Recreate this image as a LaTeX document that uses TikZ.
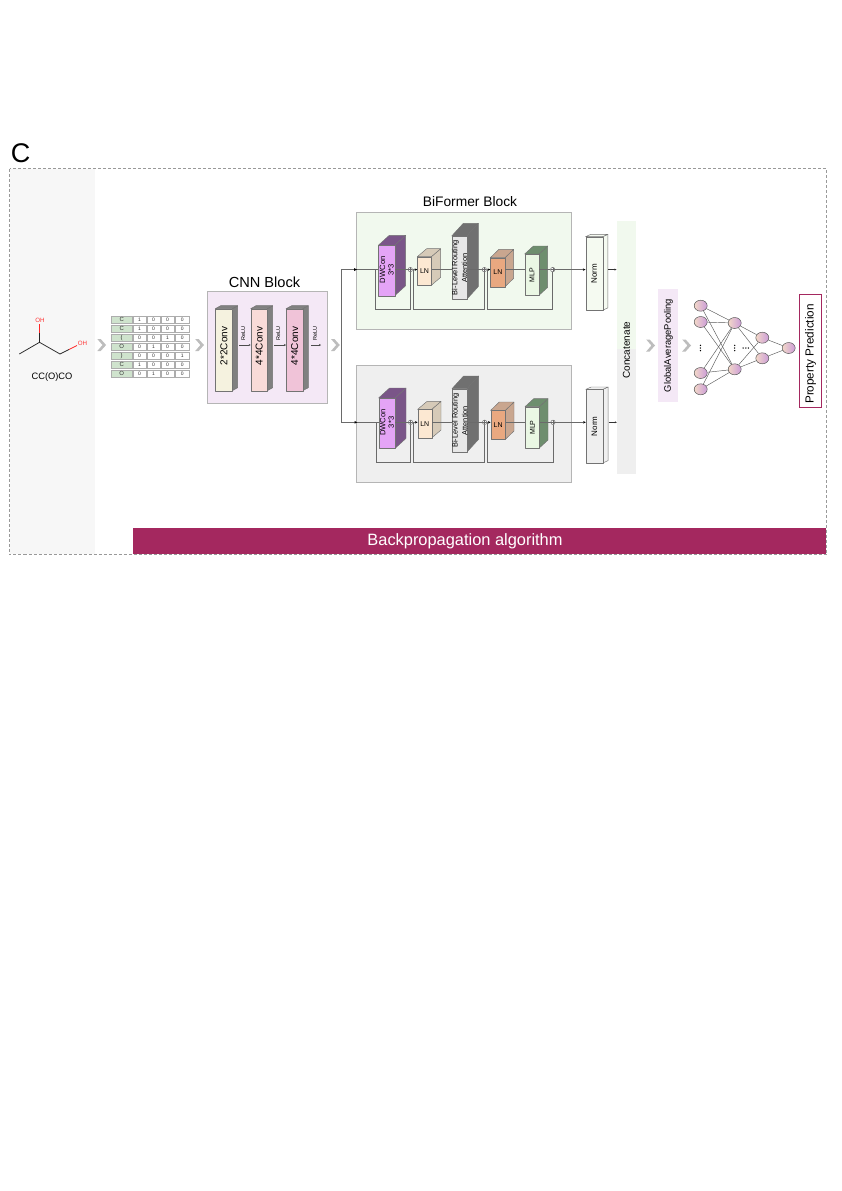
\documentclass[tikz,border=0pt]{standalone}
\usepackage{fontspec}
\usepackage{graphicx}
\setmainfont{Liberation Sans}
\usetikzlibrary{arrows.meta,shapes.geometric}
\definecolor{panelgray}{HTML}{F7F7F7}
\definecolor{lilacbg}{HTML}{F4E8F6}
\definecolor{greenbg}{HTML}{F1F9EE}
\definecolor{graybg}{HTML}{EFEFEF}
\definecolor{boxline}{HTML}{B5B5B5}
\definecolor{wine}{HTML}{A4285F}
\definecolor{chevgray}{HTML}{BDBDBD}
\definecolor{wire}{HTML}{6A6A6A}
\definecolor{cellgreen}{HTML}{CFE3CD}
\definecolor{nnleft}{HTML}{F3D8C8}
\definecolor{nnright}{HTML}{CB9CD8}
\definecolor{convA}{HTML}{F5F2DF}
\definecolor{convB}{HTML}{F9DBD8}
\definecolor{convC}{HTML}{F0C3D8}
\definecolor{dwfront}{HTML}{E4A4F6}
\definecolor{dwside}{HTML}{7A5588}
\definecolor{lnafront}{HTML}{FCE8D2}
\definecolor{lnaside}{HTML}{D6CAB8}
\definecolor{bifront}{HTML}{E7E7E7}
\definecolor{biside}{HTML}{707070}
\definecolor{lnbfront}{HTML}{E9A880}
\definecolor{lnbside}{HTML}{C9A68F}
\definecolor{mlpfront}{HTML}{EAF7E4}
\definecolor{mlpside}{HTML}{6E8E6E}
\definecolor{normgreen}{HTML}{F5FAF1}
\definecolor{convside}{HTML}{808080}
\newcommand{\fs}[1]{\fontsize{#1}{#1}\selectfont}
\tikzset{
  fs/.style={font=\fontsize{#1}{#1}\selectfont},
  blockbox/.style={draw=boxline,line width=0.7pt},
  cubeedge/.style={draw=black!55,line width=0.45pt,line join=round},
  wireline/.style={draw=wire,line width=0.65pt},
  tip/.style={wireline,-{Stealth[length=2.6pt,width=2.4pt,color=black]}},
  relu/.style={draw=black!70,line width=0.4pt,-{Stealth[length=2pt,width=2pt]}},
  plus/.style={circle,draw=wire,fill=white,line width=0.5pt,minimum size=4.4pt,inner sep=0pt,
    path picture={\draw[wire,line width=0.35pt] (path picture bounding box.west) -- (path picture bounding box.east) (path picture bounding box.north) -- (path picture bounding box.south);}},
  nn/.style={ellipse,draw=black!65,line width=0.5pt,left color=nnleft,right color=nnright,minimum width=13pt,minimum height=11pt,inner sep=0pt},
  nnedge/.style={draw=black!65,line width=0.45pt},
  cell/.style={draw=black!32,line width=0.35pt,fill=white,inner sep=0pt,fs=5,text=black!80},
  chev/.style={fill=chevgray,draw=none}
}
\newcommand{\ctext}{}
% name, x, y(top of front), w, h, dx, dy, front colour, side colour ; label in \ctext
\newcommand{\cuboid}[9]{%
  \filldraw[cubeedge,fill=#9] (#2+#4,#3) -- ++(#6,-#7) -- ++(0,#5) -- ++(-#6,#7) -- cycle;
  \filldraw[cubeedge,fill=#9] (#2,#3) -- ++(#6,-#7) -- ++(#4,0) -- ++(-#6,#7) -- cycle;
  \node[cubeedge,fill=#8,anchor=north west,minimum width=#4pt,minimum height=#5pt,inner sep=0pt,text=black] (#1) at (#2,#3) {\ctext};
}
\newcommand{\chevron}[2]{%
  \fill[chev] (#1,#2-6) -- ++(3.4,0) -- ++(5.4,6) -- ++(-5.4,6) -- ++(-3.4,0) -- ++(5.2,-6) -- cycle;
}
% prefix, dx, dy, bg colour, norm fill
\newcommand{\branch}[5]{%
  \begin{scope}[shift={(#2,#3)}]
    \node[blockbox,fill=#4,minimum width=215pt,minimum height=117pt,inner sep=0pt,anchor=north west] (#1box) at (356,212.3) {};
    \renewcommand{\ctext}{\fs{7.6}\rotatebox{90}{\hspace{2pt}\shortstack{DWCon\\3*3}}}
    \cuboid{#1dw}{378.3}{245.3}{16.4}{50.4}{11}{10}{dwfront}{dwside}
    \renewcommand{\ctext}{\fs{7}LN}
    \cuboid{#1lna}{417.3}{256.7}{14}{28.6}{9.4}{8}{lnafront}{lnaside}
    \renewcommand{\ctext}{\fs{7.4}\rotatebox{90}{\shortstack{Bi-Level Routing\\Attention}}}
    \cuboid{#1bi}{451.7}{236}{15}{63.3}{11.6}{12.7}{bifront}{biside}
    \renewcommand{\ctext}{\fs{7}LN}
    \cuboid{#1lnb}{490.3}{257.7}{14.7}{29}{8.7}{8.4}{lnbfront}{lnbside}
    \renewcommand{\ctext}{\fs{7}\rotatebox{90}{MLP}}
    \cuboid{#1mlp}{524.7}{254}{14.3}{41.3}{8.7}{8}{mlpfront}{mlpside}
    \renewcommand{\ctext}{\fs{8}\rotatebox{90}{Norm}}
    \cuboid{#1norm}{585.5}{236.7}{17}{73.6}{5.3}{2.4}{#5}{#5}
    \node[plus] (#1pa) at (410.3,269.6) {};
    \node[plus] (#1pb) at (484.3,269.6) {};
    \node[plus] (#1pc) at (552.7,269.6) {};
    \coordinate (#1in) at (356,269.6);
    \coordinate (#1ra) at (375.7,269.6);
    \coordinate (#1rb) at (413.3,269.6);
    \coordinate (#1rc) at (487.3,269.6);
    \coordinate (#1out) at (616.5,269.6);
    \draw[wireline] (#1in) -- (#1in -| #1dw.west);
    \draw[wireline] (#1pa -| #1dw.east) -- (#1pa);
    \draw[tip] (#1pa) -- (#1pa -| #1lna.west);
    \draw[wireline] (#1pa -| #1lna.east) -- (#1pa -| #1bi.west);
    \draw[wireline] (#1pb -| #1bi.east) -- (#1pb);
    \draw[tip] (#1pb) -- (#1pb -| #1lnb.west);
    \draw[wireline] (#1pb -| #1lnb.east) -- (#1pb -| #1mlp.west);
    \draw[wireline] (#1pc -| #1mlp.east) -- (#1pc);
    \draw[tip] (#1pc) -- (#1pc -| #1norm.west);
    \draw[relu,draw=black!80] (#1out -| #1norm.east) ++(5.3,0) -- (#1out);
    \draw[wireline] (#1ra) -- ++(0,39.8) -| (#1pa);
    \draw[wireline] (#1rb) -- ++(0,39.8) -| (#1pb);
    \draw[wireline] (#1rc) -- ++(0,39.8) -| (#1pc);
  \end{scope}
}
\begin{document}
\begin{tikzpicture}[x=1pt,y=-1pt]
\useasboundingbox (0,0) rectangle (842,1191);
% outer
\fill[panelgray] (10,169) rectangle (95,554);
\draw[draw=black!40,line width=0.5pt,dash pattern=on 3pt off 2pt] (9.5,168.5) rectangle (826.5,554.5);
\node[fs=27,anchor=center] (lab) at (20.5,153) {C};
% molecule
\coordinate (m1) at (19.3,354);
\coordinate (m2) at (39.5,342.3);
\coordinate (m3) at (60,354);
\coordinate (m4) at (69,349.5);
\coordinate (m5) at (77,345.5);
\coordinate (m6) at (39.5,333);
\coordinate (m7) at (39.5,323.5);
\draw[line width=0.75pt,black!85,line join=round] (m1) -- (m2) -- (m3) -- (m4);
\draw[line width=0.75pt,black!85] (m2) -- (m6);
\draw[line width=0.75pt,red!85] (m4) -- (m5);
\draw[line width=0.75pt,red!85] (m6) -- (m7);
\node[fs=6.2,text=red!80,inner sep=0pt] (oha) at (40,320) {OH};
\node[fs=6.2,text=red!80,inner sep=0pt] (ohb) at (82.5,343.5) {OH};
\node[fs=9.3,inner sep=0pt] (smiles) at (52,376.8) {CC(O)CO};
% table
\foreach \ri/\sym/\va/\vb/\vc/\vd in {0/C/1/0/0/0,1/C/1/0/0/0,2/{(}/0/0/1/0,3/O/0/1/0/0,4/{)}/0/0/0/1,5/C/1/0/0/0,6/O/0/1/0/0}{
  \pgfmathsetmacro{\yy}{319.5+9.05*\ri}
  \node[cell,fs=6,fill=cellgreen,minimum width=21.4pt,minimum height=7.4pt] (t\ri s) at (121.7,\yy) {\sym};
  \node[cell,minimum width=12.8pt,minimum height=7.4pt] (t\ri a) at (139.4,\yy) {\va};
  \node[cell,minimum width=12.8pt,minimum height=7.4pt] (t\ri b) at (153.4,\yy) {\vb};
  \node[cell,minimum width=12.8pt,minimum height=7.4pt] (t\ri c) at (167.4,\yy) {\vc};
  \node[cell,minimum width=14.2pt,minimum height=7.4pt] (t\ri d) at (182.2,\yy) {\vd};
}
% chevrons
\chevron{97.3}{345}
\chevron{195.2}{345}
\chevron{331}{345}
\chevron{646.2}{345.5}
\chevron{682.2}{345.5}
% CNN block
\node[blockbox,fill=lilacbg,minimum width=119.4pt,minimum height=112pt,inner sep=0pt,anchor=north west] (cnn) at (207.3,291.4) {};
\node[fs=14.6,inner sep=0pt] (cnnt) at (264.5,282) {CNN Block};
\renewcommand{\ctext}{\fs{10}\rotatebox{90}{\hspace{8pt}2*2Conv}}
\cuboid{ca}{215.3}{308.7}{17}{82}{5.3}{3}{convA}{convside}
\renewcommand{\ctext}{\fs{10}\rotatebox{90}{\hspace{8pt}4*4Conv}}
\cuboid{cb}{250.7}{308.7}{16.7}{82}{5.3}{3}{convB}{convside}
\cuboid{cc}{286}{308.7}{16.7}{82}{5.6}{3}{convC}{convside}
\coordinate (ca0) at (239,345);
\coordinate (cb0) at (274,345);
\coordinate (cc0) at (311,345);
\coordinate (cc1) at (321,345);
\draw[relu] (ca0) -- (cb.west |- ca0);
\draw[relu] (cb0) -- (cc.west |- cb0);
\draw[relu] (cc0) -- (cc1);
\node[fs=5.5,rotate=90,inner sep=0pt] (ra) at (243.3,333.3) {ReLU};
\node[fs=5.5,rotate=90,inner sep=0pt] (rb) at (278.3,333.3) {ReLU};
\node[fs=5.5,rotate=90,inner sep=0pt] (rc) at (315,333.3) {ReLU};
% BiFormer branches
\node[fs=13.8,inner sep=0pt] (bft) at (470,201.7) {BiFormer Block};
\branch{u}{0}{0}{greenbg}{normgreen}
\branch{l}{0.3}{152.7}{graybg}{graybg}
% splitter
\coordinate (sp) at (341,345);
\draw[wireline] (sp) -- (341,269.6) -- (uin);
\draw[wireline] (sp) -- (341,422.3) -- (lin);
\fill[black] (uin) ++(-1.8,-1.4) -- ++(2.8,1.4) -- ++(-2.8,1.4) -- cycle;
\fill[black] (lin) ++(-1.8,-1.4) -- ++(2.8,1.4) -- ++(-2.8,1.4) -- cycle;
% concatenate
\fill[greenbg] (616.7,221) rectangle (636,349.3);
\fill[graybg] (616.7,349.3) rectangle (636,474);
\node[fs=10,rotate=90,inner sep=0pt] (conc) at (626.5,350) {Concatenate};
% pooling
\node[fill=lilacbg,minimum width=19.7pt,minimum height=112.4pt,inner sep=0pt] (gap) at (668.2,345.5) {};
\node[fs=9.4,rotate=90,inner sep=0pt] (gapt) at (668.4,345.5) {GlobalAveragePooling};
% network
\node[nn] (n1) at (700.7,305.7) {};
\node[nn] (n2) at (700.7,322) {};
\node[nn] (n3) at (700.7,373) {};
\node[nn] (n4) at (700.7,389.3) {};
\node[nn] (h1) at (734.7,323) {};
\node[nn] (h2) at (734.7,369.3) {};
\node[nn] (k1) at (762.3,337.7) {};
\node[nn] (k2) at (762.3,358.3) {};
\node[nn] (o) at (788.7,348) {};
\foreach \a in {n1,n2,n3,n4}\foreach \b in {h1,h2}{\draw[nnedge] (\a) -- (\b);}
\foreach \a in {h1,h2}\foreach \b in {k1,k2}{\draw[nnedge] (\a) -- (\b);}
\foreach \a in {k1,k2}{\draw[nnedge] (\a) -- (o);}
\foreach \xx in {700.4,734.7}{\foreach \yy in {345.4,348,350.6}{\fill[black] (\xx,\yy) circle (0.75);}}
\foreach \xx in {743.2,745.8,748.4}{\fill[black] (\xx,348) circle (0.75);}
% output
\node[draw=wine,line width=1pt,fill=white,minimum width=22pt,minimum height=113pt,inner sep=0pt] (prop) at (810.7,351.2) {};
\node[fs=11.7,rotate=90,inner sep=0pt] (propt) at (810.7,354) {Property Prediction};
% backprop
\node[fill=wine,minimum width=693pt,minimum height=26pt,inner sep=0pt,anchor=north west,text=white] (bp) at (133,528) {};
\node[fs=16.4,text=white,inner sep=0pt] (bpt) at (465,541) {Backpropagation algorithm};
\end{tikzpicture}
\end{document}
